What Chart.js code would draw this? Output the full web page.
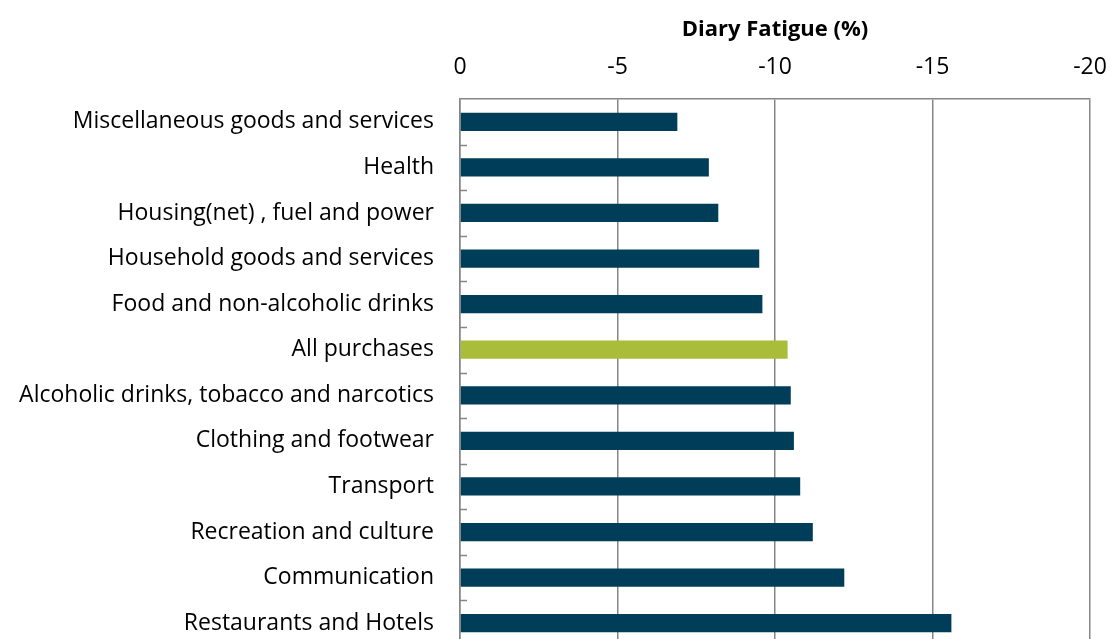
<!DOCTYPE html>
<html>
<head>
<meta charset="utf-8">
<script src="https://cdn.jsdelivr.net/npm/chart.js@4.4.0/dist/chart.umd.min.js"></script>
<style>
html,body{margin:0;padding:0;background:#fff;overflow:hidden;}
#wrap{width:1110px;height:662px;position:relative;}
</style>
</head>
<body>
<div id="wrap"><canvas id="c" width="1110" height="662"></canvas></div>
<script>
const categories = [
  "Miscellaneous goods and services",
  "Health",
  "Housing(net) , fuel and power",
  "Household goods and services",
  "Food and non-alcoholic drinks",
  "All purchases",
  "Alcoholic drinks, tobacco and narcotics",
  "Clothing and footwear",
  "Transport",
  "Recreation and culture",
  "Communication",
  "Restaurants and Hotels"
];
const fatigue = [-6.9, -7.9, -8.2, -9.5, -9.6, -10.4, -10.5, -10.6, -10.8, -11.2, -12.2, -15.6];
const highlight = "All purchases";
const xTicks = [0, -5, -10, -15, -20];
const axisTitle = "Diary Fatigue (%)";

const FONT = "'Open Sans', sans-serif";
const barColors = categories.map(c => c === highlight ? "#A9BD3A" : "#003D58");

const innerTicks = {
  id: 'innerTicks',
  afterDatasetsDraw(chart) {
    const y = chart.scales.y, ctx = chart.ctx;
    const left = chart.chartArea.left;
    ctx.save();
    ctx.strokeStyle = '#868686';
    ctx.lineWidth = 1.5;
    for (let i = 0; i < categories.length - 1; i++) {
      const p = (y.getPixelForValue(i) + y.getPixelForValue(i + 1)) / 2;
      ctx.beginPath();
      ctx.moveTo(left, Math.round(p) + 0.5);
      ctx.lineTo(left + 7, Math.round(p) + 0.5);
      ctx.stroke();
    }
    ctx.restore();
  }
};

new Chart(document.getElementById('c'), {
  type: 'bar',
  data: {
    labels: categories,
    datasets: [{
      data: fatigue,
      backgroundColor: barColors,
      borderWidth: 0,
      barPercentage: 0.8,
      categoryPercentage: 0.5
    }]
  },
  options: {
    indexAxis: 'y',
    responsive: false,
    animation: false,
    events: [],
    layout: { padding: { top: 0, right: 20, bottom: 16, left: 0 } },
    plugins: { legend: { display: false }, tooltip: { enabled: false } },
    scales: {
      x: {
        position: 'top',
        reverse: true,
        min: -20, max: 0,
        afterBuildTicks(s) { s.ticks = xTicks.map(v => ({ value: v })); },
        afterFit(s) { s.height = 99; s.paddingLeft = 0; s.paddingRight = 0; },
        ticks: { color: '#000', font: { family: FONT, size: 23 }, padding: 18 },
        grid: { color: '#868686', lineWidth: 1.5, drawTicks: false },
        border: { color: '#868686', width: 1.5 },
        title: { display: true, text: axisTitle, color: '#000', font: { family: FONT, size: 22, weight: 'bold' }, padding: { top: 17, bottom: 2 } }
      },
      y: {
        afterFit(s) { s.width = 460; s.paddingTop = 0; s.paddingBottom = 0; },
        ticks: { color: '#000', font: { family: FONT, size: 23 }, padding: 26 },
        grid: { display: false, drawTicks: false },
        border: { color: '#868686', width: 1.5 }
      }
    }
  },
  plugins: [innerTicks]
});
</script>
</body>
</html>
